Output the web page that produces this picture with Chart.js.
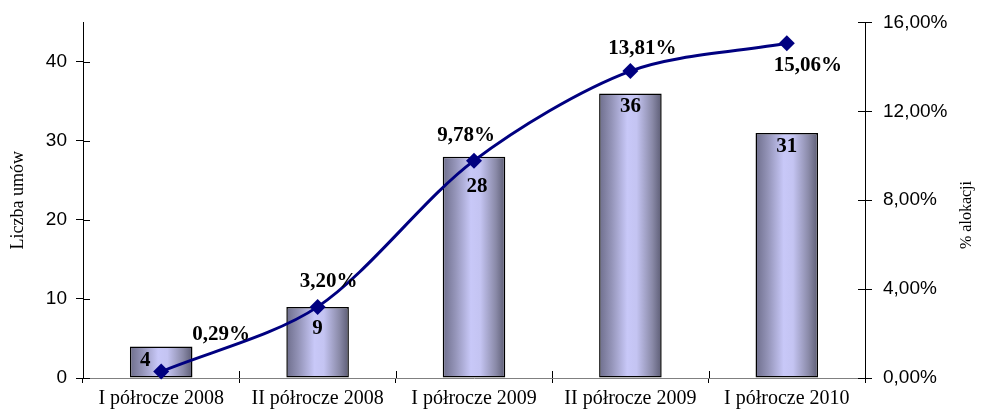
<!DOCTYPE html>
<html><head><meta charset="utf-8">
<script src="https://cdn.jsdelivr.net/npm/chart.js@4"></script>
<style>html,body{margin:0;padding:0;background:#fff}</style>
</head><body><canvas id="c" width="985" height="416"></canvas>
<script>
const categories = ['I półrocze 2008','II półrocze 2008','I półrocze 2009','II półrocze 2009','I półrocze 2010'];
const contracts = [4, 9, 28, 36, 31];
const allocationPct = [0.29, 3.20, 9.78, 13.81, 15.06];
const leftTicks = [0, 10, 20, 30, 40];
const rightTicks = [0, 4, 8, 12, 16];
const leftTitle = 'Liczba umów';
const rightTitle = '% alokacji';

const fmtPct = v => v.toFixed(2).replace('.', ',') + '%';

// label placement offsets (pixels), kept separate from data
const pctLabelOffsets = [[60,-37],[11,-25],[-8,-25],[12,-22],[21,22]];
const barLabelOffsets = [[-16,14],[0,22],[3,30],[0,13],[0,14]];

const BAR_FRACTION = 0.4;

const labelsPlugin = {
  id: 'labels',
  afterDatasetsDraw(chart) {
    const ctx = chart.ctx;
    ctx.save();
    ctx.fillStyle = '#000';
    ctx.textAlign = 'center';
    ctx.textBaseline = 'middle';
    ctx.font = 'bold 21px "Liberation Serif", "Times New Roman", serif';
    const barMeta = chart.getDatasetMeta(1);
    barMeta.data.forEach((el, i) => {
      const o = barLabelOffsets[i];
      ctx.fillText(String(contracts[i]), el.x + o[0], el.y + o[1]);
    });
    const lineMeta = chart.getDatasetMeta(0);
    lineMeta.data.forEach((el, i) => {
      const o = pctLabelOffsets[i];
      ctx.fillText(fmtPct(allocationPct[i]), el.x + o[0], el.y + o[1]);
    });
    ctx.restore();
  },
  afterDraw(chart) {
    const ctx = chart.ctx;
    const {y, y1, x} = chart.scales;
    ctx.save();
    ctx.strokeStyle = '#000';
    ctx.lineWidth = 1;
    ctx.beginPath();
    y.ticks.forEach(t => {
      const py = Math.round(y.getPixelForValue(t.value)) + 0.5;
      ctx.moveTo(y.right, py); ctx.lineTo(y.right + 7, py);
    });
    y1.ticks.forEach(t => {
      const py = Math.round(y1.getPixelForValue(t.value)) + 0.5;
      ctx.moveTo(y1.left - 7, py); ctx.lineTo(y1.left, py);
    });
    const cw = (x.right - x.left) / categories.length;
    for (let i = 1; i <= categories.length; i++) {
      const px = Math.round(x.left + i * cw) + 0.5;
      ctx.moveTo(px, x.top - 7); ctx.lineTo(px, x.top);
    }
    ctx.stroke();
    // right axis title, reading bottom to top
    ctx.fillStyle = '#000';
    ctx.font = '16px "Liberation Serif", "Times New Roman", serif';
    ctx.textAlign = 'center';
    ctx.textBaseline = 'middle';
    ctx.translate(967, 215);
    ctx.rotate(-Math.PI / 2);
    ctx.fillText(rightTitle, 0, 0);
    ctx.restore();
  }
};

function barGradient(c) {
  const ch = c.chart;
  const xs = ch.scales.x;
  if (!xs || !ch.chartArea) return '#b8b8e8';
  const cx = xs.getPixelForValue(c.dataIndex);
  const w = (xs.right - xs.left) / categories.length * BAR_FRACTION;
  const g = ch.ctx.createLinearGradient(cx - w / 2, 0, cx + w / 2, 0);
  g.addColorStop(0, '#6e6e8c');
  g.addColorStop(0.2, '#9494b8');
  g.addColorStop(0.45, '#c8c8f8');
  g.addColorStop(0.6, '#c4c4f2');
  g.addColorStop(0.85, '#8a8aa8');
  g.addColorStop(1, '#5c5c74');
  return g;
}

new Chart(document.getElementById('c'), {
  data: {
    labels: categories,
    datasets: [
      {
        type: 'line',
        label: rightTitle,
        data: allocationPct,
        yAxisID: 'y1',
        order: 0,
        borderColor: '#000080',
        borderWidth: 3,
        tension: 0.3,
        pointStyle: 'rectRot',
        pointRadius: 8,
        pointBackgroundColor: '#000080',
        pointBorderColor: '#000080',
        pointBorderWidth: 0,
        clip: false
      },
      {
        type: 'bar',
        label: leftTitle,
        data: contracts,
        yAxisID: 'y',
        order: 1,
        backgroundColor: barGradient,
        borderColor: '#000',
        borderWidth: 1.5,
        borderSkipped: false,
        barPercentage: BAR_FRACTION,
        categoryPercentage: 1
      }
    ]
  },
  options: {
    responsive: false,
    animation: false,
    layout: { padding: { top: 20, bottom: 0, left: 0, right: 0 } },
    plugins: { legend: { display: false }, tooltip: { enabled: false } },
    scales: {
      x: {
        type: 'category',
        offset: true,
        afterFit(s) { s.height = 38; },
        grid: { display: true, offset: true, drawOnChartArea: false, tickLength: 5, color: '#000', lineWidth: 1 },
        border: { display: true, color: '#808080', width: 1 },
        ticks: {
          color: '#000', maxRotation: 0, autoSkip: false, padding: 4,
          font: { family: '"Liberation Serif", "Times New Roman", serif', size: 20 }
        }
      },
      y: {
        position: 'left',
        min: 0, max: 45,
        afterBuildTicks(s) { s.ticks = leftTicks.map(v => ({ value: v })); },
        afterFit(s) { s.width = 83; },
        grid: { display: true, drawOnChartArea: false, tickLength: 7, color: '#000' },
        border: { display: true, color: '#000', width: 1 },
        ticks: {
          color: '#000', padding: 9,
          font: { family: '"Liberation Sans", Arial, sans-serif', size: 19 }
        },
        title: {
          display: true, text: leftTitle, color: '#000',
          padding: { top: 7, bottom: 0 },
          font: { family: '"Liberation Serif", "Times New Roman", serif', size: 18 }
        }
      },
      y1: {
        position: 'right',
        min: 0, max: 16,
        afterBuildTicks(s) { s.ticks = rightTicks.map(v => ({ value: v })); },
        afterFit(s) { s.width = 120; },
        grid: { display: true, drawOnChartArea: false, tickLength: 7, color: '#000' },
        border: { display: true, color: '#000', width: 1 },
        ticks: {
          color: '#000', padding: 11,
          callback: v => fmtPct(v),
          font: { family: '"Liberation Sans", Arial, sans-serif', size: 19 }
        }
      }
    }
  },
  plugins: [labelsPlugin]
});
</script>
</body></html>
